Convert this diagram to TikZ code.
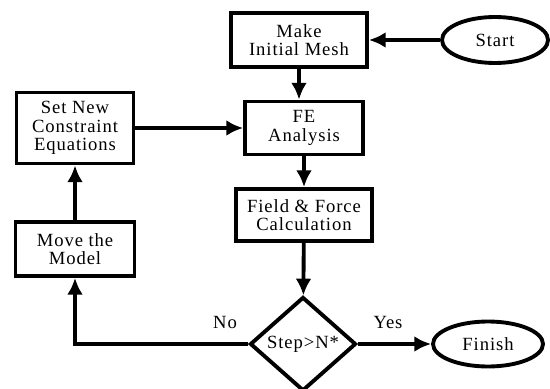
\documentclass[tikz,border=0pt]{standalone}
\usepackage{fontspec}
\setmainfont[LetterSpace=5]{Liberation Serif}
\usetikzlibrary{arrows.meta,shapes.geometric}

\begin{document}
\begin{tikzpicture}[font=\fontsize{10.6}{10.4}\selectfont]
\tikzset{block/.style = {shape=rectangle,draw,line width=2.2pt,align=center,inner sep=0pt}}
\tikzset{terminal/.style = {shape=ellipse,draw,line width=2.2pt,inner sep=0pt}}
\tikzset{decision/.style = {shape=diamond,draw,line width=2.2pt,inner sep=0pt}}
\tikzset{edge/.style = {-{Latex[length=9.5pt,width=9pt]},line width=2.2pt}}
\useasboundingbox (0,0) rectangle (11,7.76);
% blocks
\node[block,minimum width=2.72cm,minimum height=1.08cm] (mesh) at (5.98,6.96) {Make\\Initial Mesh};
\node[block,minimum width=2.36cm,minimum height=1.06cm] (fe) at (6.08,5.2) {FE\\Analysis};
\node[block,minimum width=2.72cm,minimum height=1.04cm] (calc) at (6.08,3.46) {Field \& Force\\Calculation};
\node[block,minimum width=2.34cm,minimum height=1.42cm] (cons) at (1.5,5.2) {Set New\\Constraint\\Equations};
\node[block,minimum width=2.38cm,minimum height=1.08cm] (move) at (1.5,2.78) {Move the\\Model};
\node[decision,minimum width=2.12cm,minimum height=1.88cm] (step) at (6.06,0.88) {Step>N*};
\node[terminal,minimum width=2.12cm,minimum height=0.92cm] (start) at (9.9,6.96) {Start};
\node[terminal,minimum width=2.2cm,minimum height=0.9cm] (finish) at (9.76,0.88) {Finish};
% labels
\node (no) at (4.5,1.32) {No};
\node (yes) at (7.76,1.32) {Yes};
%edges
\draw[edge] (start) to (mesh);
\draw[edge] (mesh) to (mesh |- fe.north);
\draw[edge] (fe) to (calc);
\draw[edge] (calc) to (step);
\draw[edge] (step) to (finish);
\draw[edge] (step.west) -| (move.south);
\draw[edge] (move) to (cons);
\draw[edge] (cons) to (fe);
\end{tikzpicture}
\end{document}
